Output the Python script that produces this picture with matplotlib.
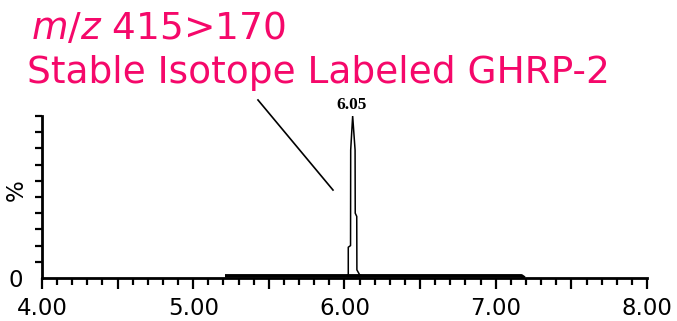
import numpy as np
import matplotlib.pyplot as plt
from matplotlib.ticker import MultipleLocator, FixedLocator

# retention time (min) / relative intensity (%) of the m/z 415>170 trace
peak_rt = [6.018, 6.025, 6.025, 6.040, 6.041, 6.054, 6.070, 6.071, 6.081, 6.082, 6.100, 6.110]
peak_int = [1.5, 2.0, 19.0, 20.0, 79.0, 100.0, 79.0, 40.0, 38.0, 5.0, 2.0, 1.5]

# low level noise before / after the peak
noise_rt = [5.21, 6.018, 6.110, 7.17, 7.19]
noise_int = [1.3, 1.3, 1.3, 1.3, 0.0]

apex_rt = 6.05
apex_label = '6.05'
x_major = np.arange(4.0, 8.01, 0.5)
x_labels = ['4.00', '', '5.00', '', '6.00', '', '7.00', '', '8.00']

pink = '#f5086a'

fig = plt.figure(figsize=(6.77, 3.21), dpi=100)
ax = fig.add_axes([0.062, 0.134, 0.8937, 0.5046])

ax.plot(noise_rt, noise_int, color='black', lw=2.6, solid_capstyle='butt')
ax.plot(peak_rt, peak_int, color='black', lw=1.1)

ax.set_xlim(4.0, 8.0)
ax.set_ylim(0, 100)

for s in ['top', 'right']:
    ax.spines[s].set_visible(False)
ax.spines['left'].set_linewidth(2)
ax.spines['bottom'].set_linewidth(2)

# x axis: labels on integers, long ticks every 0.5, short every 0.1
ax.xaxis.set_major_locator(FixedLocator(x_major))
ax.set_xticklabels(x_labels)
ax.xaxis.set_minor_locator(MultipleLocator(0.1))
ax.tick_params(axis='x', which='major', length=8, width=1.6, labelsize=16.5, pad=5.5)
ax.tick_params(axis='x', which='minor', length=5, width=1.6)

# y axis: only "0", short ticks every 10 %
ax.set_yticks([0], ['0'])
ax.yaxis.set_minor_locator(MultipleLocator(10))
ax.tick_params(axis='y', which='major', length=0, labelsize=16.5, pad=14)
ax.tick_params(axis='y', which='minor', length=5, width=1.6)
ax.set_ylabel('%', fontsize=16.5)
ax.yaxis.set_label_coords(-0.024, 0.54)

# apex label
ax.text(apex_rt, 102, apex_label, ha='center', va='bottom', fontsize=12.5,
        fontweight='bold', family='Liberation Serif', clip_on=False)

# leader line from the title to the peak
ax.plot([5.428, 5.924], [109.9, 54.3], color='black', lw=1.2, clip_on=False)

fig.text(0.046, 0.877, r'$\it{m/z}$ 415>170', color=pink, fontsize=27,
         ha='left', va='baseline')
fig.text(0.040, 0.740, 'Stable Isotope Labeled GHRP-2', color=pink, fontsize=27,
         ha='left', va='baseline')

fig.savefig('out.png', dpi=100)
